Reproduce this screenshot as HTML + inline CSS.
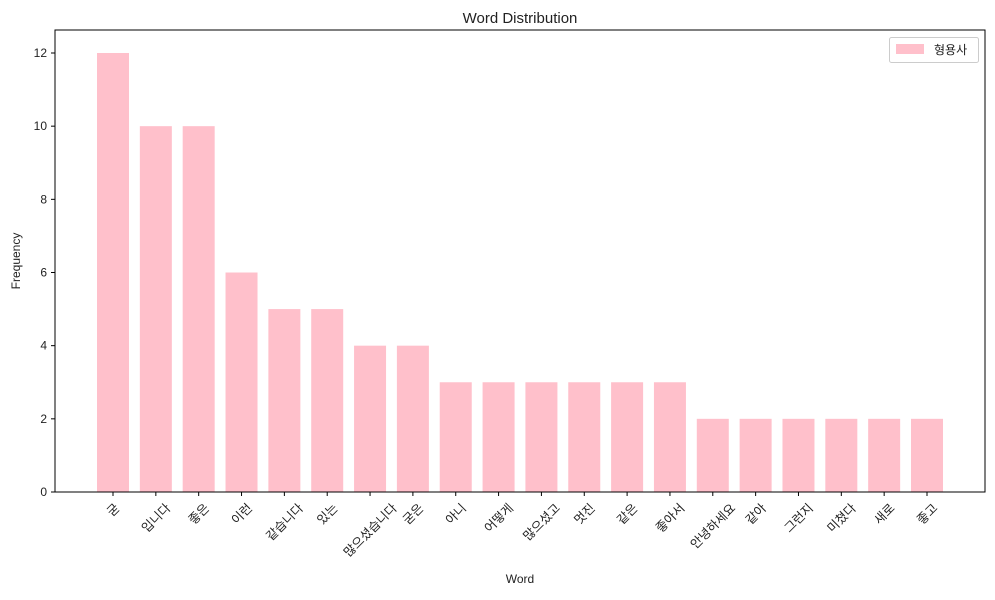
<!DOCTYPE html>
<html><head><meta charset="utf-8"><style>
body{margin:0;background:#fff}
svg text{font-family:"Liberation Sans","Noto Sans CJK KR",sans-serif;fill:#222}
</style></head><body>
<svg id="c" width="995" height="595" xmlns="http://www.w3.org/2000/svg">
<text x="520" y="23" font-size="15" text-anchor="middle">Word Distribution</text>
<g id="bars"></g>
<g id="xt"></g>
<g id="yt"></g>
<rect x="55" y="30" width="930" height="462" fill="none" stroke="#000" stroke-width="1"/>
<text x="520" y="583" font-size="12" text-anchor="middle">Word</text>
<text x="20" y="261" font-size="12" text-anchor="middle" transform="rotate(-90 20 261)">Frequency</text>
<g>
<rect x="889.5" y="37.5" width="89" height="25" rx="2" fill="#fff" stroke="#ccc"/>
<rect x="896" y="44" width="28" height="10" fill="#ffc0cb"/>
<text x="934" y="54" font-size="12">형용사</text>
</g>
</svg>
<script>
const categories=["굳","입니다","좋은","이런","같습니다","있는","많으셨습니다","굳은","아니","어떻게","많으셨고","멋진","같은","좋아서","안녕하세요","같아","그런지","미쳤다","새로","좋고"];
const values=[12,10,10,6,5,5,4,4,3,3,3,3,3,3,2,2,2,2,2,2];
const yTicks=[0,2,4,6,8,10,12];
const NS="http://www.w3.org/2000/svg";
const x0=113,step=(927-113)/19,bw=32;
function xs(i){return x0+i*step;}
function ys(v){return 492-v*(492-53)/12;}
function mk(t,a,p){const e=document.createElementNS(NS,t);for(const k in a)e.setAttribute(k,a[k]);p.appendChild(e);return e;}
const bars=document.getElementById('bars'),xt=document.getElementById('xt'),yt=document.getElementById('yt');
categories.forEach((c,i)=>{
 const r=mk('rect',{x:xs(i)-bw/2,y:ys(values[i]),width:bw,height:ys(0)-ys(values[i]),fill:'#ffc0cb'},bars);
 
 
 const l=mk('line',{x1:xs(i),x2:xs(i),y1:492,y2:496,stroke:'#000'},xt);
 
 
 const t=mk('text',{x:0,y:0,'font-size':12.5,'text-anchor':'middle'},xt);
 t.textContent=c;
 
 
 const L=t.getComputedTextLength(),h=13;
 const cy=501+(L+h)*0.7071/2;
 const cx=xs(i);
 // baseline center offset so the glyph box center lands at (cx,cy)
 const bx=cx+0.7071*(h*0.35), by=cy+0.7071*(h*0.35);
 t.setAttribute('x',bx);t.setAttribute('y',by);
 t.setAttribute('transform',`rotate(-45 ${bx} ${by})`);
});
yTicks.forEach(v=>{
 const l=mk('line',{x1:51,x2:55,y1:ys(v),y2:ys(v),stroke:'#000'},yt);
 
 
 const t=mk('text',{x:47,y:ys(v)+4,'font-size':12,'text-anchor':'end'},yt);
 t.textContent=v;
 
 
});
</script>
</body></html>
